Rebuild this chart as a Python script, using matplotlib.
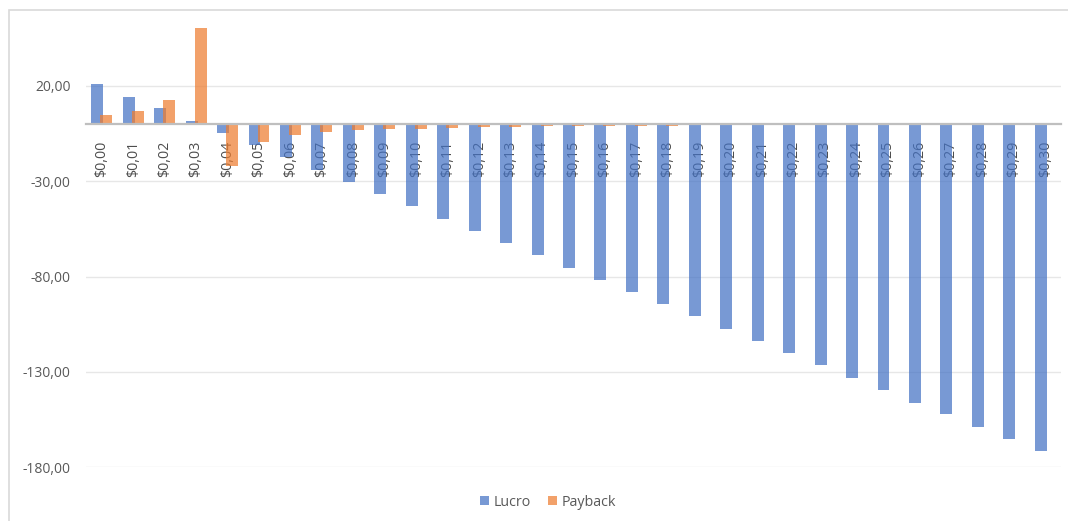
import matplotlib
matplotlib.use("Agg")
import matplotlib.pyplot as plt
import numpy as np
from matplotlib.patches import Rectangle, Patch

categories = ["$0,00", "$0,01", "$0,02", "$0,03", "$0,04", "$0,05", "$0,06", "$0,07",
              "$0,08", "$0,09", "$0,10", "$0,11", "$0,12", "$0,13", "$0,14", "$0,15",
              "$0,16", "$0,17", "$0,18", "$0,19", "$0,20", "$0,21", "$0,22", "$0,23",
              "$0,24", "$0,25", "$0,26", "$0,27", "$0,28", "$0,29", "$0,30"]

lucro = [20.7, 14.3, 8.3, 1.7, -4.8, -11.3, -17.6, -24.0,
         -30.3, -36.7, -43.2, -49.8, -56.0, -62.3, -68.9, -75.4,
         -81.8, -88.1, -94.4, -100.9, -107.5, -114.0, -119.9, -126.6,
         -133.2, -139.5, -146.1, -152.3, -158.7, -165.2, -171.6]

payback = [4.7, 6.9, 12.7, 50.3, -22.3, -9.5, -6.0, -4.2,
           -3.4, -2.9, -2.5, -2.0, -1.7, -1.5, -1.3, -1.2,
           -1.1, -1.0, -0.9, -0.8, -0.7, -0.7, -0.6, -0.6,
           -0.5, -0.5, -0.5, -0.4, -0.4, -0.4, -0.4]

yticks = [20, -30, -80, -130, -180]
ytick_labels = ["20,00", "-30,00", "-80,00", "-130,00", "-180,00"]

plt.rcParams['font.family'] = ['Open Sans', 'DejaVu Sans']

W, H = 1068, 521
fig = plt.figure(figsize=(W / 100, H / 100), dpi=100)

# chart border
fig.patches.append(Rectangle((9 / W, -0.05), 1.2, (H - 10) / H + 0.05,
                             transform=fig.transFigure, fill=False,
                             edgecolor="#D9D9D9", linewidth=1.2, zorder=0))

ymin, ymax = -180, 56
left = 86 / W
right = 1061 / W
bottom = (H - 467.3) / H
height = (ymax - ymin) * 1.908 / H
ax = fig.add_axes([left, bottom, right - left, height])

x = np.arange(len(categories))
bw = 0.38
off = 0.143
blue = "#4472C4"
orange = "#ED7D31"
ax.bar(x - off, lucro, width=bw, color=blue, alpha=0.72, zorder=2, linewidth=0)
ax.bar(x + off, payback, width=bw, color=orange, alpha=0.72, zorder=2, linewidth=0)

ax.set_xlim(-0.5, len(categories) - 0.5)
ax.set_ylim(ymin, ymax)

for s in ["top", "right", "left"]:
    ax.spines[s].set_visible(False)
ax.spines["bottom"].set_position(("data", 0))
ax.spines["bottom"].set_color("#BFBFBF")
ax.spines["bottom"].set_linewidth(1.6)
ax.spines["bottom"].set_zorder(3)

ax.tick_params(axis="both", length=0, colors="#595959", labelsize=10)
ax.tick_params(axis="x", pad=12, labelrotation=90, labelcolor="#4D4D4D", labelsize=10.3)
ax.tick_params(axis="y", pad=11)

ax.set_yticks(yticks)
ax.set_yticklabels(ytick_labels)
ax.set_xticks(x)
ax.set_xticklabels(categories)
for lbl in ax.get_xticklabels():
    lbl.set_rotation(90)
    lbl.set_va("top")
    lbl.set_ha("center")

ax.yaxis.grid(True, color="#E7E7E7", linewidth=1)
ax.set_axisbelow(True)
ax.patch.set_alpha(0)

handles = [Patch(facecolor=blue, alpha=0.72, label="Lucro"),
           Patch(facecolor=orange, alpha=0.72, label="Payback")]
fig.legend(handles=handles, loc="center", bbox_to_anchor=(548.5 / W, (H - 502) / H),
           ncol=2, frameon=False, fontsize=10.3, labelcolor="#595959",
           handlelength=0.6, handleheight=0.6, handletextpad=0.35, columnspacing=1.2)

fig.savefig("out.png", dpi=100)
